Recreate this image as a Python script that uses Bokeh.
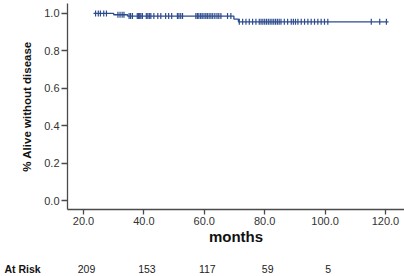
from bokeh.plotting import figure
from bokeh.layouts import column
from bokeh.models import Range1d, FixedTicker, PrintfTickFormatter, Label
from bokeh.embed import file_html
from bokeh.resources import INLINE
import numpy as np

step_times = [23.3, 30.0, 34.6, 69.8, 71.3, 121.0]
step_surv = [1.000, 0.993, 0.986, 0.970, 0.955, 0.955]

censor_times = [24.0, 24.9, 25.6, 26.7, 27.6,
                31.4, 32.1, 32.8, 33.4,
                35.1, 35.6, 36.2, 37.8, 38.2, 38.6, 39.0, 39.5,
                40.8, 41.3, 41.8, 42.3, 43.3, 44.6, 45.6, 47.2, 48.2, 49.2,
                51.1, 51.6, 52.2, 52.8,
                57.2, 57.7, 58.2, 58.8, 59.3, 59.9, 60.5, 61.0, 61.6, 62.2,
                62.8, 63.5, 64.2, 64.8, 65.5, 67.7, 68.8,
                71.6, 72.7, 73.8, 74.9, 76.0, 77.1,
                78.2, 78.8, 79.4, 80.0, 80.6, 81.2, 81.8, 82.4, 83.0, 83.6,
                84.2, 84.8, 85.4, 86.5, 87.6, 88.8, 89.5, 90.2, 91.0,
                92.1, 93.2, 94.3, 95.4, 96.5, 97.6, 98.7, 99.8, 100.9,
                115.3, 118.1, 120.3]

x_ticks = [20, 40, 60, 80, 100, 120]
y_ticks = [0.0, 0.2, 0.4, 0.6, 0.8, 1.0]
risk_times = [20, 40, 60, 80, 100]
risk_counts = ["209", "153", "117", "59", "5"]

BLUE = "#2d4b8e"
AXC = "#4a4a4a"

X0, X1 = 14.7, 126.3
LEFT = 67
W = 404

p = figure(width=W, height=250, output_backend="svg", toolbar_location=None,
           x_range=Range1d(X0, X1), y_range=Range1d(-0.048, 1.053),
           min_border_left=LEFT, min_border_right=0, min_border_top=3,
           min_border_bottom=41)
p.outline_line_color = None
p.xgrid.visible = False
p.ygrid.visible = False

p.step(step_times, step_surv, mode="after", line_color=BLUE, line_width=1.3)

ct = np.array(censor_times)
idx = np.searchsorted(np.array(step_times), ct, side="right") - 1
cs = np.array(step_surv)[idx]
p.scatter(ct, cs, marker="dash", angle=np.pi / 2, size=6, line_color=BLUE,
          line_width=1.2)

for ax in (p.xaxis[0], p.yaxis[0]):
    ax.axis_line_color = AXC
    ax.axis_line_width = 1.3
    ax.major_tick_line_color = AXC
    ax.major_tick_line_width = 1.3
    ax.minor_tick_line_color = None
    ax.major_tick_in = 0
    ax.major_label_text_color = "#333333"
    ax.major_label_text_font = "Liberation Sans"
    ax.major_label_text_font_size = "11px"
    ax.axis_label_text_color = "#111111"
    ax.axis_label_text_font_style = "bold"
    ax.axis_label_text_font = "Liberation Sans"
    ax.formatter = PrintfTickFormatter(format="%.1f")

p.xaxis.ticker = FixedTicker(ticks=x_ticks)
p.yaxis.ticker = FixedTicker(ticks=y_ticks)
p.xaxis.major_tick_out = 5
p.yaxis.major_tick_out = 6
p.xaxis.major_label_standoff = 2
p.yaxis.major_label_standoff = 2
p.xaxis.axis_label = "months"
p.xaxis.axis_label_text_font_size = "15px"
p.xaxis.axis_label_standoff = 0
p.yaxis.axis_label = "% Alive without disease"
p.yaxis.axis_label_text_font_size = "11.5px"
p.yaxis.axis_label_standoff = 8

# At Risk row in a strip below, on the same horizontal scale
scale = (X1 - X0) / (W - LEFT)
p2 = figure(width=W, height=26, output_backend="svg", toolbar_location=None,
            x_range=Range1d(X0 - LEFT * scale, X1), y_range=Range1d(0, 26),
            min_border_left=0, min_border_right=0, min_border_top=0,
            min_border_bottom=0)
p2.outline_line_color = None
p2.xaxis.visible = False
p2.yaxis.visible = False
p2.xgrid.visible = False
p2.ygrid.visible = False
for fig in (p, p2):
    if "frame_align" in fig.properties():
        fig.frame_align = False
p2.add_layout(Label(x=4, y=8, x_units="screen", y_units="screen", text="At Risk",
                    text_font="Liberation Sans", text_font_style="bold",
                    text_font_size="10.5px", text_color="#111111",
                    text_baseline="middle"))
for t, c in zip(risk_times, risk_counts):
    p2.add_layout(Label(x=t, y=8, x_units="data", y_units="screen", text=c,
                        x_offset=3, text_align="center", text_baseline="middle",
                        text_font="Liberation Sans", text_font_size="10.5px",
                        text_color="#222222"))

layout = column(p, p2, spacing=0)
open("out.html", "w").write(file_html(layout, INLINE))
